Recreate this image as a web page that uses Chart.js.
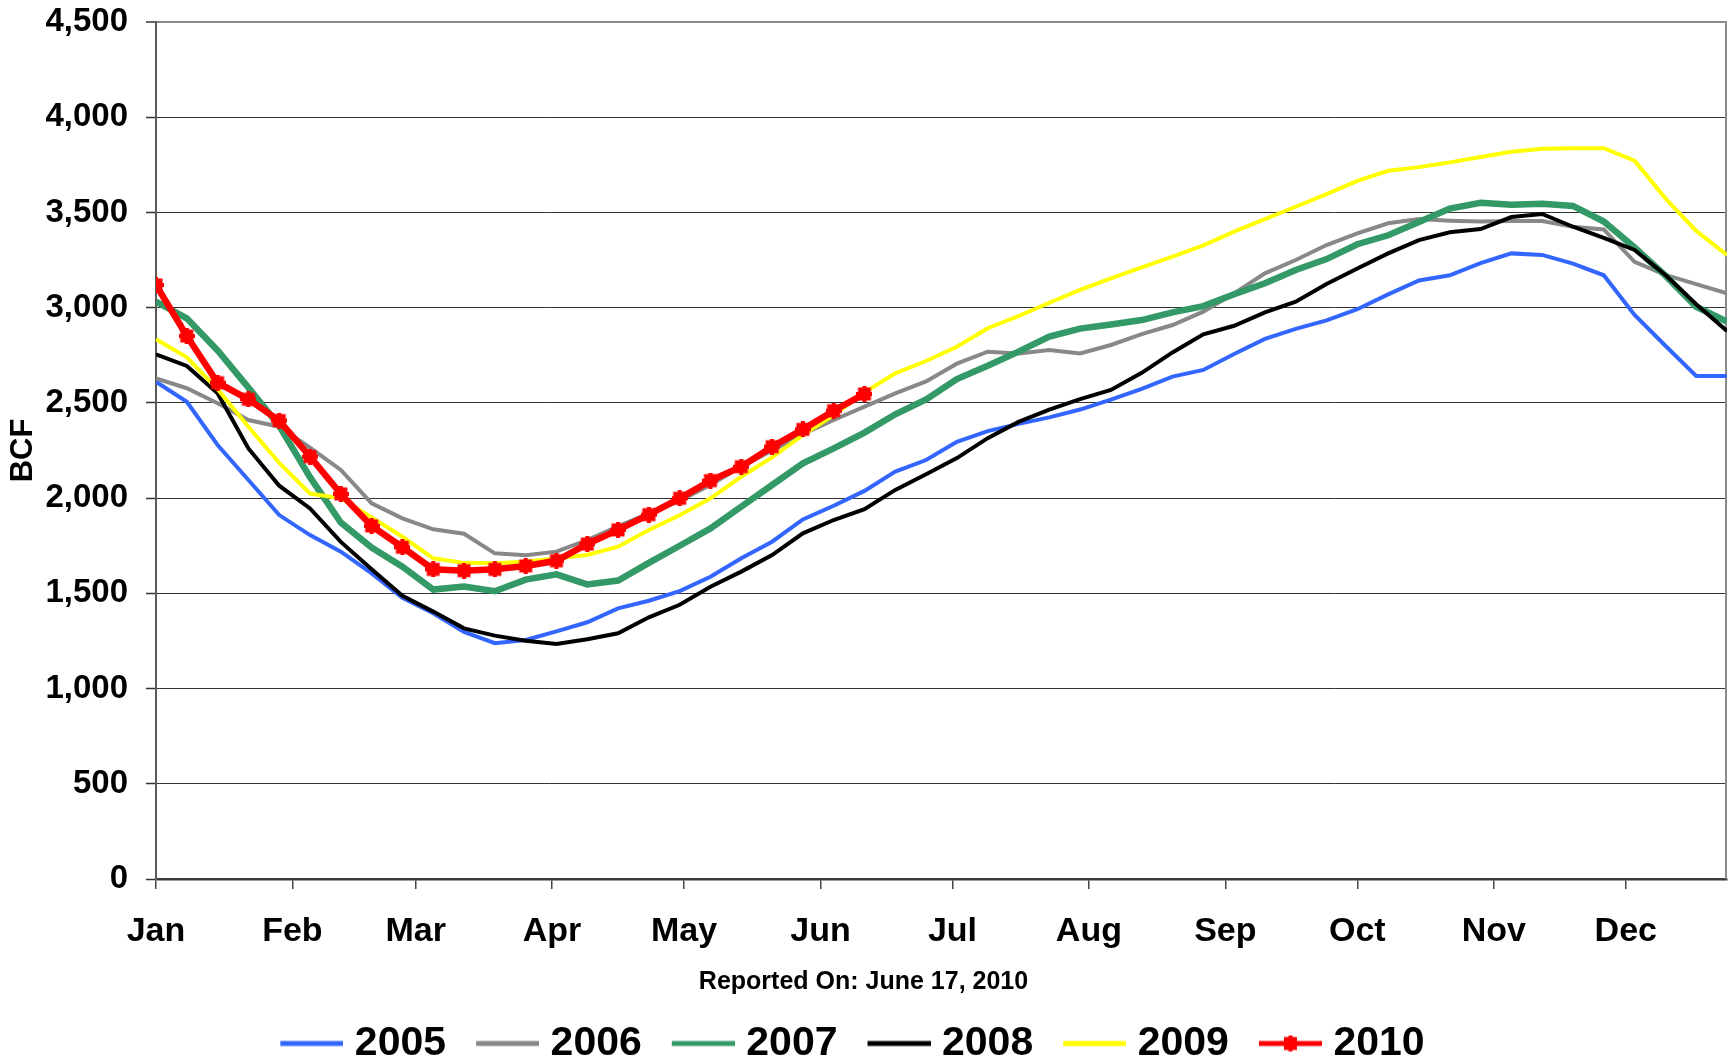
<!DOCTYPE html>
<html>
<head>
<meta charset="utf-8">
<script src="https://cdn.jsdelivr.net/npm/chart.js@4.4.1/dist/chart.umd.min.js"></script>
<style>
  html, body { margin: 0; padding: 0; background: #ffffff; }
  #wrap { width: 1729px; height: 1062px; }
</style>
</head>
<body>
<div id="wrap"><canvas id="c" width="1729" height="1062"></canvas></div>
<script>
// ---- data (BCF, weekly, week 0 = first report of January) ----
const monthLabels = ['Jan', 'Feb', 'Mar', 'Apr', 'May', 'Jun', 'Jul', 'Aug', 'Sep', 'Oct', 'Nov', 'Dec'];
const monthStartDays = [0, 31, 59, 90, 120, 151, 181, 212, 243, 273, 304, 334];
const weeks = [0, 1, 2, 3, 4, 5, 6, 7, 8, 9, 10, 11, 12, 13, 14, 15, 16, 17, 18, 19, 20, 21, 22, 23, 24, 25,
  26, 27, 28, 29, 30, 31, 32, 33, 34, 35, 36, 37, 38, 39, 40, 41, 42, 43, 44, 45, 46, 47, 48, 49, 50, 51];
const yearNames = ['2005', '2006', '2007', '2008', '2009', '2010'];

const s2005 = [2611, 2506, 2279, 2095, 1911, 1806, 1719, 1605, 1476, 1395, 1297, 1238, 1255, 1300, 1348, 1421,
  1461, 1512, 1587, 1684, 1771, 1888, 1960, 2038, 2139, 2200, 2296, 2352, 2390, 2424, 2465, 2517, 2574, 2638,
  2673, 2757, 2836, 2889, 2933, 2992, 3070, 3143, 3170, 3234, 3285, 3277, 3231, 3170, 2962, 2800, 2641, 2641];
const s2006 = [2629, 2577, 2498, 2410, 2375, 2265, 2148, 1973, 1894, 1836, 1813, 1710, 1700, 1719, 1780, 1852,
  1920, 1985, 2070, 2165, 2250, 2336, 2410, 2480, 2550, 2613, 2706, 2769, 2760, 2778, 2760, 2804, 2861, 2909,
  2979, 3075, 3180, 3250, 3329, 3390, 3443, 3465, 3457, 3452, 3455, 3455, 3425, 3411, 3241, 3172, 3124, 3075];
const s2007 = [3032, 2944, 2775, 2580, 2380, 2110, 1872, 1740, 1640, 1520, 1536, 1511, 1572, 1600, 1547, 1567,
  1660, 1750, 1841, 1955, 2069, 2183, 2261, 2344, 2440, 2518, 2625, 2695, 2769, 2848, 2890, 2912, 2935, 2975,
  3008, 3070, 3128, 3198, 3255, 3333, 3380, 3450, 3520, 3551, 3541, 3546, 3534, 3452, 3316, 3168, 3005, 2927];
const s2008 = [2755, 2694, 2550, 2261, 2065, 1946, 1770, 1627, 1487, 1404, 1316, 1278, 1251, 1234, 1259, 1290,
  1374, 1440, 1535, 1614, 1701, 1815, 1885, 1942, 2043, 2125, 2210, 2315, 2400, 2465, 2520, 2568, 2658, 2765,
  2860, 2905, 2975, 3031, 3124, 3206, 3285, 3355, 3396, 3413, 3476, 3492, 3425, 3367, 3303, 3172, 3018, 2878];
const s2009 = [2834, 2739, 2572, 2375, 2185, 2024, 1999, 1899, 1797, 1684, 1660, 1658, 1666, 1684, 1701, 1745,
  1833, 1910, 1999, 2112, 2214, 2331, 2436, 2555, 2655, 2720, 2795, 2892, 2956, 3026, 3093, 3154, 3212, 3268,
  3327, 3399, 3465, 3530, 3596, 3666, 3719, 3738, 3763, 3791, 3819, 3835, 3837, 3837, 3772, 3574, 3403, 3277];
const s2010 = [3119, 2851, 2606, 2519, 2407, 2218, 2022, 1854, 1742, 1626, 1619, 1626, 1644, 1671, 1759, 1833,
  1913, 1999, 2092, 2165, 2270, 2361, 2459, 2547];

const yTickStep = 500;
const yMax = 4500;
const subtitleText = 'Reported On: June 17, 2010';
const yTitleText = 'BCF';

// ---- chart ----
Chart.defaults.font.family = "'Liberation Sans', Arial, Helvetica, sans-serif";
Chart.defaults.font.weight = 'bold';
Chart.defaults.color = '#000000';

const seriesList = [s2005, s2006, s2007, s2008, s2009, s2010];
const lineColors = ['#3366FF', '#888888', '#339966', '#000000', '#FFFF00', '#FF0000'];
const lineWidths = [4, 4, 6.5, 4, 4, 6.5];

function drawMarkerShape(g, cx, cy, color) {
  g.fillStyle = color;
  g.fillRect(cx - 6.5, cy - 6.5, 13, 13);
  g.fillRect(cx - 2, cy - 8, 4, 16);
  g.fillRect(cx - 8, cy - 2, 16, 4);
}
function makeMarker(color) {
  const c = document.createElement('canvas');
  c.width = 16; c.height = 16;
  drawMarkerShape(c.getContext('2d'), 8, 8, color);
  return c;
}
function makeLegendSample(color, withMarker) {
  const c = document.createElement('canvas');
  c.width = 76; c.height = 18;
  const g = c.getContext('2d');
  g.fillStyle = color;
  g.fillRect(13, 6.5, 63, 5);
  if (withMarker) drawMarkerShape(g, 44.5, 9, color);
  return c;
}
const redMarker = makeMarker('#FF0000');
const legendSamples = lineColors.map((col, i) => makeLegendSample(col, i === 5));

const datasets = seriesList.map((vals, i) => ({
  label: yearNames[i],
  data: vals,
  borderColor: lineColors[i],
  backgroundColor: lineColors[i],
  borderWidth: lineWidths[i],
  tension: 0,
  fill: false,
  order: seriesList.length - i,
  pointRadius: i === 5 ? 8 : 0,
  pointHoverRadius: i === 5 ? 8 : 0,
  pointStyle: i === 5 ? redMarker : 'circle',
  pointBackgroundColor: lineColors[i],
  pointBorderColor: lineColors[i],
  pointBorderWidth: 0
}));

const framePlugin = {
  id: 'frame',
  afterLayout(chart) {
    if (chart.legend) { chart.legend.left -= 26; }
  },
  beforeDatasetsDraw(chart) {
    const a = chart.chartArea, ctx = chart.ctx;
    ctx.save();
    ctx.strokeStyle = '#8c8c8c';
    ctx.lineWidth = 2;
    ctx.beginPath();
    ctx.moveTo(a.right - 1, a.top);
    ctx.lineTo(a.right - 1, a.bottom);
    ctx.stroke();
    ctx.restore();
  }
};

new Chart(document.getElementById('c'), {
  type: 'line',
  data: { labels: weeks, datasets },
  plugins: [framePlugin],
  options: {
    responsive: false,
    animation: false,
    devicePixelRatio: 1,
    layout: { autoPadding: false, padding: { top: 22, right: 2, bottom: 0, left: 0 } },
    scales: {
      x: {
        type: 'linear',
        min: 0,
        max: weeks[weeks.length - 1],
        afterBuildTicks(scale) {
          scale.ticks = monthStartDays.map(d => ({ value: d / 7 }));
        },
        afterFit(scale) {
          scale.height = 83;
          scale.paddingLeft = 0;
          scale.paddingRight = 0;
        },
        ticks: {
          autoSkip: false,
          maxRotation: 0,
          minRotation: 0,
          padding: 22,
          color: '#000',
          font: { size: 34, weight: 'bold' },
          callback: (v, i) => monthLabels[i]
        },
        grid: {
          drawOnChartArea: false,
          drawTicks: true,
          tickLength: 10,
          color: '#444444',
          lineWidth: 1.5
        },
        border: { display: true, color: '#3a3a3a', width: 2.5 }
      },
      y: {
        min: 0,
        max: yMax,
        afterFit(scale) {
          scale.width = 156;
          scale.paddingTop = 0;
          scale.paddingBottom = 0;
        },
        ticks: {
          stepSize: yTickStep,
          padding: 18,
          color: '#000',
          font: { size: 33, weight: 'bold' },
          callback: v => Number(v).toLocaleString('en-US')
        },
        grid: {
          drawTicks: true,
          tickLength: 10,
          color: c => c.tick && c.tick.value === yMax ? '#8c8c8c' : (c.tick && c.tick.value === 0 ? 'rgba(0,0,0,0)' : '#333333'),
          lineWidth: c => c.tick && c.tick.value === yMax ? 2 : 1,
          tickColor: '#333333',
          tickWidth: 1.5
        },
        border: { display: true, color: '#5a5a5a', width: 2 },
        title: {
          display: true,
          text: yTitleText,
          color: '#000',
          font: { size: 31, weight: 'bold' },
          padding: { top: 5, bottom: 0 }
        }
      }
    },
    plugins: {
      title: {
        display: true,
        text: subtitleText,
        position: 'bottom',
        weight: 500,
        color: '#000',
        font: { size: 25, weight: 'bold' },
        padding: { top: 5, bottom: 0 }
      },
      legend: {
        display: true,
        position: 'bottom',
        weight: 1000,
        maxHeight: 65,
        labels: {
          usePointStyle: true,
          pointStyleWidth: 58,
          padding: 26,
          color: '#000',
          font: { size: 41, weight: 'bold' },
          generateLabels(chart) {
            const items = Chart.defaults.plugins.legend.labels.generateLabels(chart);
            items.sort((a, b) => a.datasetIndex - b.datasetIndex);
            items.forEach(it => { it.pointStyle = legendSamples[it.datasetIndex]; it.lineWidth = 0; });
            return items;
          }
        }
      },
      tooltip: { enabled: false }
    }
  }
});
</script>
</body>
</html>
